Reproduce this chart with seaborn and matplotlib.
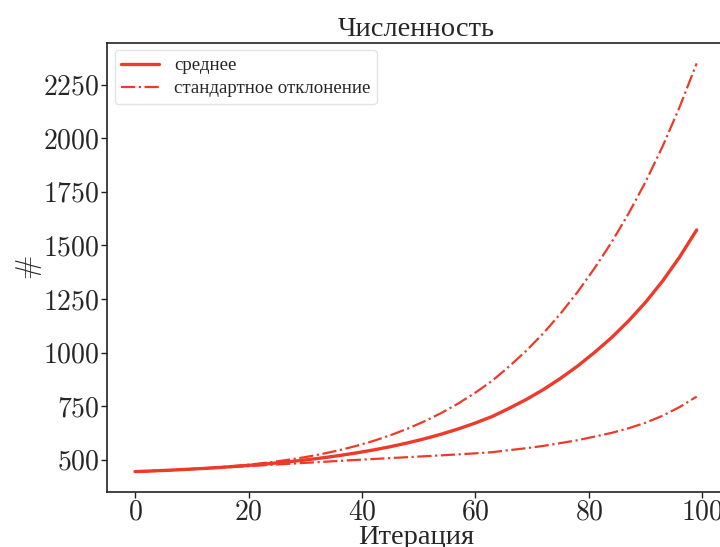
import matplotlib
matplotlib.use("Agg")
import matplotlib.pyplot as plt
import seaborn as sns
import pandas as pd

iterations = [0, 3, 6, 9, 12, 15, 18, 21, 24, 27, 30, 33, 36, 39, 42, 45, 48,
              51, 54, 57, 60, 63, 66, 69, 72, 75, 78, 81, 84, 87, 90, 93, 96, 99]
mean_vals = [445.0, 448.1, 451.5, 455.4, 459.7, 464.5, 470.0, 476.1, 483.0, 490.7,
             499.3, 509.0, 519.9, 532.2, 545.9, 561.3, 578.6, 598.0, 619.8, 644.3,
             671.8, 702.6, 741, 782, 828, 880, 937, 1001, 1070, 1148, 1235, 1334,
             1446, 1572]
std_vals = [0, 0, 0.06, 0.22, 0.6, 1.3, 2.4, 4.0, 6.3, 9.4, 13.4, 18.6, 24.9, 32.7,
            42.1, 53.2, 66.3, 81.4, 98.9, 118.9, 141.6, 167, 195.7, 227.7, 263, 302,
            345.5, 392.7, 444.4, 500.8, 562, 628.3, 699.8, 777]

title = "Численность"
xlabel = "Итерация"
ylabel = r"$\#$"
label_mean = "среднее"
label_std = "стандартное отклонение"

sns.set_theme(style="ticks")
plt.rcParams["font.family"] = ["cmr10", "Liberation Serif", "DejaVu Serif"]
plt.rcParams["mathtext.fontset"] = "cm"
plt.rcParams["axes.formatter.use_mathtext"] = True
plt.rcParams["axes.unicode_minus"] = False

df = pd.DataFrame({"it": iterations, "mean": mean_vals, "std": std_vals})
df["upper"] = df["mean"] + df["std"]
df["lower"] = df["mean"] - df["std"]

color = "#ee3a2a"
serif = ["Liberation Serif", "DejaVu Serif"]
fig = plt.figure(figsize=(7.2, 5.47), dpi=100)
ax = fig.add_axes([0.1486, 0.1005, 0.858, 0.821])

sns.lineplot(data=df, x="it", y="mean", ax=ax, color=color, lw=2.4, label=label_mean)
sns.lineplot(data=df, x="it", y="upper", ax=ax, color=color, lw=1.6, linestyle="-.", label=label_std)
sns.lineplot(data=df, x="it", y="lower", ax=ax, color=color, lw=1.6, linestyle="-.", label=None)

ax.set_yticks([500, 750, 1000, 1250, 1500, 1750, 2000, 2250])
ax.set_xticks([0, 20, 40, 60, 80, 100])
ax.tick_params(axis="both", labelsize=20, length=4, width=1, color="#222222", pad=1.5)

ax.set_title(title, fontsize=20.5, family=serif, pad=5)
ax.set_xlabel(xlabel, fontsize=20.5, family=serif, labelpad=-1)
ax.set_ylabel(ylabel, fontsize=21, labelpad=-1)

for s in ax.spines.values():
    s.set_color("#222222")
    s.set_linewidth(1.2)

leg = ax.legend(loc="upper left", prop={"family": serif, "size": 13.6},
                frameon=True, fancybox=True, framealpha=0.8, borderpad=0.35,
                labelspacing=0.3, handlelength=2.0, borderaxespad=0.4)
leg.get_frame().set_edgecolor("#dddddd")

fig.savefig("out.png", dpi=100)
